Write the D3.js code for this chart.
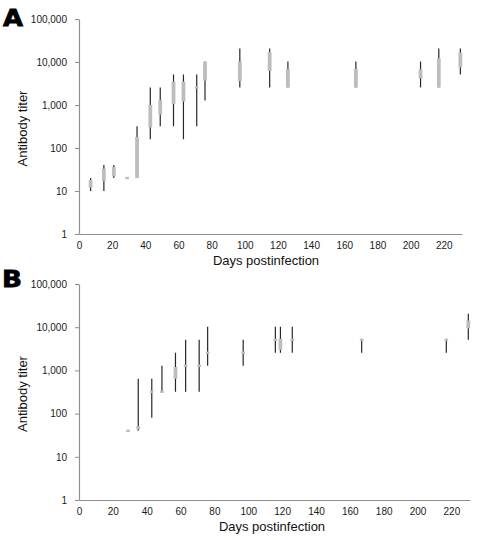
<!DOCTYPE html>
<html><head><meta charset="utf-8">
<script src="https://cdn.jsdelivr.net/npm/d3@7"></script>
<style>body{margin:0;background:#fff}svg{display:block}</style>
</head><body>
<svg id="c" width="480" height="540"></svg>
<script>
// ---- Data ----
const yTicks = [1, 10, 100, 1000, 10000, 100000];
const xTicks = [0, 20, 40, 60, 80, 100, 120, 140, 160, 180, 200, 220];

// Panel A
const daysA = [7, 15, 21, 29, 35, 43, 49, 57, 63, 71, 76, 97, 115, 126, 167, 206, 217, 230];
const minA  = [10, 10, 20, 20, 20, 160, 320, 320, 160, 320, 1280, 2560, 2560, 2560, 2560, 2560, 2560, 5120];
const q1A   = [12, 17, 22, 20, 20, 300, 600, 1050, 1200, 2560, 3700, 3600, 6200, 2560, 2560, 4200, 2560, 7500];
const q3A   = [18, 33, 36, 20, 180, 1000, 1300, 3500, 3500, 2560, 10240, 10240, 17000, 6900, 6900, 6800, 12200, 16500];
const maxA  = [20, 40, 40, 20, 320, 2560, 2560, 5120, 5120, 5120, 10240, 20480, 20480, 10240, 10240, 10240, 20480, 20480];

// Panel B
const daysB = [29, 35, 43, 49, 57, 63, 71, 76, 97, 116, 119, 126, 167, 217, 230];
const minB  = [40, 40, 80, 320, 320, 320, 320, 1280, 1280, 2560, 2560, 2560, 2560, 2560, 5120];
const q1B   = [40, 43, 320, 320, 640, 1280, 1280, 2560, 2560, 5120, 3000, 5120, 5120, 5120, 9400];
const q3B   = [40, 51, 320, 320, 1200, 1280, 1280, 2560, 2560, 5120, 5400, 5120, 5120, 5120, 14200];
const maxB  = [40, 640, 640, 1280, 2560, 5120, 5120, 10240, 5120, 10240, 10240, 10240, 5120, 5120, 20480];

const panelLabels = ["A", "B"];
const xTitle = "Days postinfection";
const yTitle = "Antibody titer";

// ---- Drawing ----
const svg = d3.select("#c");
const FONT = "Liberation Sans, Arial, sans-serif";
const AXIS_COLOR = "#8f8f8f";
const BOX_COLOR = "#bdbdbd";
const LINE_COLOR = "#262626";

function panel(cfg, label, days, mins, q1s, q3s, maxs) {
  const x = d3.scaleLinear().domain([0, 231]).range([cfg.left, cfg.right]);
  const y = d3.scaleLog().domain([1, 100000]).range([cfg.bottom, cfg.top]);
  const g = svg.append("g");

  const yAxis = d3.axisLeft(y).tickValues(yTicks).tickFormat(d3.format(",")).tickSize(4).tickSizeOuter(0).tickPadding(8);
  const ya = g.append("g").attr("transform", `translate(${cfg.left},0)`).call(yAxis);
  const xAxis = d3.axisBottom(x).tickValues(xTicks).tickSize(0).tickSizeOuter(0).tickPadding(8);
  const xa = g.append("g").attr("transform", `translate(0,${cfg.bottom})`).call(xAxis);
  [ya, xa].forEach(a => {
    a.select(".domain").attr("stroke", AXIS_COLOR).attr("stroke-width", 1.2);
    a.selectAll(".tick line").attr("stroke", AXIS_COLOR);
    a.selectAll("text").attr("font-family", FONT).attr("font-size", 10).attr("fill", "#1a1a1a");
  });

  const idx = d3.range(days.length);
  g.append("g").selectAll("line").data(idx).join("line")
    .attr("x1", i => x(days[i])).attr("x2", i => x(days[i]))
    .attr("y1", i => y(maxs[i])).attr("y2", i => y(mins[i]))
    .attr("stroke", LINE_COLOR).attr("stroke-width", 1.2);
  g.append("g").selectAll("rect").data(idx).join("rect")
    .each(function(i) {
      const top = y(q3s[i]), bot = y(q1s[i]);
      const h = bot - top;
      const sel = d3.select(this);
      if (h < 2.2) {
        const c = (top + bot) / 2;
        sel.attr("x", x(days[i]) - 1.8).attr("width", 3.6).attr("y", c - 1.2).attr("height", 2.4);
      } else {
        sel.attr("x", x(days[i]) - 1.9).attr("width", 3.8).attr("y", top).attr("height", h);
      }
    })
    .attr("fill", BOX_COLOR);

  g.append("text").text(yTitle)
    .attr("transform", `translate(${cfg.yTitleX},${(cfg.top + cfg.bottom) / 2 + 2}) rotate(-90)`)
    .attr("text-anchor", "middle").attr("font-family", FONT).attr("font-size", 13).attr("fill", "#111");
  g.append("text").text(xTitle)
    .attr("x", cfg.xTitleX).attr("y", cfg.xTitleY)
    .attr("text-anchor", "middle").attr("font-family", FONT).attr("font-size", 13).attr("fill", "#111");
  g.append("text").text(label)
    .attr("x", cfg.labelX).attr("y", cfg.labelY)
    .attr("font-family", "DejaVu Sans, Arial, sans-serif").attr("font-weight", "bold")
    .attr("font-size", 23).attr("fill", "#000").attr("stroke", "#000").attr("stroke-width", 0.8)
    .attr("textLength", 20).attr("lengthAdjust", "spacingAndGlyphs");
}

panel({left: 79, right: 462, top: 19, bottom: 234, yTitleX: 26.5, xTitleX: 266, xTitleY: 265, labelX: 3, labelY: 25.5},
      panelLabels[0], daysA, minA, q1A, q3A, maxA);
panel({left: 79, right: 470, top: 284, bottom: 500, yTitleX: 26.5, xTitleX: 272, xTitleY: 531, labelX: 2, labelY: 287},
      panelLabels[1], daysB, minB, q1B, q3B, maxB);
</script>
</body></html>
